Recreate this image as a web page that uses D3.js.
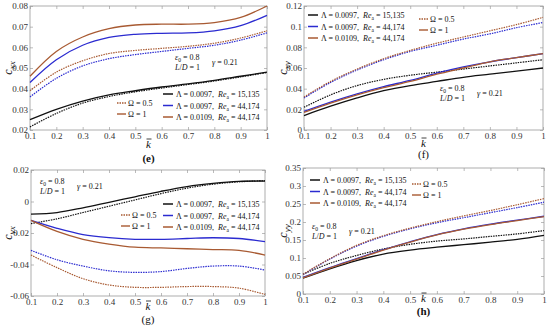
<!DOCTYPE html>
<html>
<head>
<meta charset="utf-8">
<script src="https://cdn.jsdelivr.net/npm/d3@7"></script>
<style>
  body { margin: 0; background: #fff; }
  svg { display: block; font-family: "Liberation Serif", "DejaVu Serif", serif; }
</style>
</head>
<body>
<svg width="550" height="328"></svg>
<script>
// k bar values (x axis, same for every panel)
var kBar = [0.1, 0.2, 0.3, 0.4, 0.5, 0.6, 0.7, 0.8, 0.9, 1.0];
var xTicks = [0.1, 0.2, 0.3, 0.4, 0.5, 0.6, 0.7, 0.8, 0.9, 1];
var xTickLabels = ["0.1", "0.2", "0.3", "0.4", "0.5", "0.6", "0.7", "0.8", "0.9", "1"];

// legend cases
var caseLambda = ["0.0097", "0.0097", "0.0109"];
var caseRe = ["15,135", "44,174", "44,174"];
var caseColors = ["#111111", "#2b2bd0", "#a85a32"];

// (e) c_xx
var cxxTicks = [0.02, 0.03, 0.04, 0.05, 0.06, 0.07, 0.08];
var cxxTickLabels = ["0.02", "0.03", "0.04", "0.05", "0.06", "0.07", "0.08"];
var cxx_black_om1 = [0.025, 0.0300, 0.0340, 0.0370, 0.0390, 0.0408, 0.0423, 0.0440, 0.0460, 0.0480];
var cxx_black_om05 = [0.0215, 0.0280, 0.0330, 0.0362, 0.0385, 0.0403, 0.0420, 0.0437, 0.0457, 0.0478];
var cxx_blue_om1 = [0.043, 0.0540, 0.0610, 0.0648, 0.0663, 0.0668, 0.0670, 0.0680, 0.0705, 0.0755];
var cxx_blue_om05 = [0.036, 0.0450, 0.0510, 0.0545, 0.0565, 0.0580, 0.0595, 0.0610, 0.0635, 0.0670];
var cxx_brown_om1 = [0.046, 0.0580, 0.0650, 0.0690, 0.0708, 0.0712, 0.0712, 0.0720, 0.0745, 0.0800];
var cxx_brown_om05 = [0.039, 0.0480, 0.0535, 0.0570, 0.0585, 0.0595, 0.0605, 0.0620, 0.0645, 0.0680];

// (f) c_xy
var cxyTicks = [0, 0.02, 0.04, 0.06, 0.08, 0.1, 0.12];
var cxyTickLabels = ["0", "0.02", "0.04", "0.06", "0.08", "0.1", "0.12"];
var cxy_black_om1 = [0.014, 0.023, 0.031, 0.038, 0.043, 0.047, 0.051, 0.054, 0.057, 0.060];
var cxy_black_om05 = [0.022, 0.034, 0.043, 0.049, 0.053, 0.056, 0.059, 0.062, 0.065, 0.068];
var cxy_blue_om1 = [0.018, 0.027, 0.035, 0.042, 0.048, 0.055, 0.061, 0.066, 0.070, 0.074];
var cxy_blue_om05 = [0.031, 0.046, 0.058, 0.068, 0.076, 0.082, 0.088, 0.093, 0.099, 0.104];
var cxy_brown_om1 = [0.017, 0.026, 0.034, 0.041, 0.047, 0.054, 0.060, 0.066, 0.070, 0.074];
var cxy_brown_om05 = [0.032, 0.047, 0.059, 0.069, 0.077, 0.084, 0.090, 0.096, 0.102, 0.109];

// (g) c_yx
var cyxTicks = [-0.06, -0.04, -0.02, 0, 0.02];
var cyxTickLabels = ["-0.06", "-0.04", "-0.02", "0", "0.02"];
var cyx_black_om1 = [-0.008, -0.007, -0.004, -0.0005, 0.003, 0.0065, 0.0095, 0.0115, 0.0128, 0.013];
var cyx_black_om05 = [-0.014, -0.011, -0.007, -0.003, 0.001, 0.005, 0.0085, 0.011, 0.0125, 0.0132];
var cyx_blue_om1 = [-0.012, -0.017, -0.021, -0.023, -0.024, -0.024, -0.0235, -0.023, -0.0235, -0.0255];
var cyx_blue_om05 = [-0.031, -0.037, -0.041, -0.044, -0.045, -0.0445, -0.0425, -0.041, -0.041, -0.0435];
var cyx_brown_om1 = [-0.012, -0.019, -0.024, -0.027, -0.029, -0.0295, -0.030, -0.0305, -0.031, -0.034];
var cyx_brown_om05 = [-0.034, -0.042, -0.049, -0.053, -0.0545, -0.0545, -0.054, -0.054, -0.055, -0.059];

// (h) c_yy
var cyyTicks = [0, 0.05, 0.1, 0.15, 0.2, 0.25, 0.3, 0.35];
var cyyTickLabels = ["0", "0.05", "0.1", "0.15", "0.2", "0.25", "0.3", "0.35"];
var cyy_black_om1 = [0.044, 0.070, 0.093, 0.111, 0.122, 0.130, 0.137, 0.144, 0.152, 0.163];
var cyy_black_om05 = [0.055, 0.085, 0.107, 0.125, 0.138, 0.147, 0.153, 0.160, 0.167, 0.176];
var cyy_blue_om1 = [0.046, 0.073, 0.098, 0.123, 0.145, 0.165, 0.181, 0.194, 0.205, 0.216];
var cyy_blue_om05 = [0.054, 0.097, 0.133, 0.160, 0.181, 0.198, 0.212, 0.226, 0.240, 0.255];
var cyy_brown_om1 = [0.045, 0.072, 0.097, 0.122, 0.144, 0.164, 0.180, 0.193, 0.204, 0.215];
var cyy_brown_om05 = [0.055, 0.098, 0.135, 0.162, 0.183, 0.201, 0.217, 0.232, 0.248, 0.265];

var svg = d3.select("svg");
var serif = "Liberation Serif";

// panel layouts (plot box + where legend/notes sit)
var panels = [
  { sub: "xx", tag: "(e)", bold: true, box: [30, 267, 6, 130], ticks: cxxTicks, labels: cxxTickLabels,
    series: [[cxx_black_om1, cxx_black_om05], [cxx_blue_om1, cxx_blue_om05], [cxx_brown_om1, cxx_brown_om05]],
    legend: [163, 94], omega: [117, 103], note: [175, 57], tagY: 162, kY: 148, ylabX: 12 },
  { sub: "xy", tag: "(f)", bold: false, box: [304, 543, 6, 130], ticks: cxyTicks, labels: cxyTickLabels,
    series: [[cxy_black_om1, cxy_black_om05], [cxy_blue_om1, cxy_blue_om05], [cxy_brown_om1, cxy_brown_om05]],
    legend: [308, 15], omega: [419, 19], note: [440, 88], tagY: 158, kY: 147, ylabX: 287 },
  { sub: "yx", tag: "(g)", bold: false, box: [31, 265, 170, 296], ticks: cyxTicks, labels: cyxTickLabels,
    series: [[cyx_black_om1, cyx_black_om05], [cyx_blue_om1, cyx_blue_om05], [cyx_brown_om1, cyx_brown_om05]],
    legend: [163, 204], omega: [121, 215], note: [40, 181], tagY: 323, kY: 310, ylabX: 12 },
  { sub: "yy", tag: "(h)", bold: true, box: [303, 544, 168, 294], ticks: cyyTicks, labels: cyyTickLabels,
    series: [[cyy_black_om1, cyy_black_om05], [cyy_blue_om1, cyy_blue_om05], [cyy_brown_om1, cyy_brown_om05]],
    legend: [310, 180], omega: [412, 184], note: [312, 226], tagY: 315, kY: 302, ylabX: 287 }
];

panels.forEach(function(p) {
  var x0 = p.box[0], x1 = p.box[1], y0 = p.box[2], y1 = p.box[3];
  var x = d3.scaleLinear().domain([0.1, 1]).range([x0, x1]);
  var y = d3.scaleLinear().domain([p.ticks[0], p.ticks[p.ticks.length - 1]]).range([y1, y0]);
  var g = svg.append("g").style("font-family", serif);

  // axes, MATLAB-ish box with inward ticks
  var fmtX = function(d, i) { return xTickLabels[i]; };
  var fmtY = function(d, i) { return p.labels[i]; };
  var bottom = g.append("g").attr("transform", "translate(0," + y1 + ")")
    .call(d3.axisBottom(x).tickValues(xTicks).tickFormat(fmtX).tickSizeInner(-3).tickSizeOuter(0).tickPadding(3));
  var top = g.append("g").attr("transform", "translate(0," + y0 + ")")
    .call(d3.axisTop(x).tickValues(xTicks).tickFormat("").tickSizeInner(-3).tickSizeOuter(0));
  var left = g.append("g").attr("transform", "translate(" + x0 + ",0)")
    .call(d3.axisLeft(y).tickValues(p.ticks).tickFormat(fmtY).tickSizeInner(-3).tickSizeOuter(0).tickPadding(2));
  var right = g.append("g").attr("transform", "translate(" + x1 + ",0)")
    .call(d3.axisRight(y).tickValues(p.ticks).tickFormat("").tickSizeInner(-3).tickSizeOuter(0));
  [bottom, top, left, right].forEach(function(a) {
    a.attr("font-family", serif);
    a.select(".domain").remove();
    a.selectAll(".tick line").attr("stroke", "#bbb");
    a.selectAll("text").attr("fill", "#333").style("font-family", serif).style("font-size", "9px");
  });
  g.append("rect").attr("x", x0).attr("y", y0).attr("width", x1 - x0).attr("height", y1 - y0)
    .attr("fill", "none").attr("stroke", "#999").attr("stroke-width", 0.8);

  // curves
  var line = d3.line().x(function(d, i) { return x(kBar[i]); }).y(function(d) { return y(d); })
    .curve(d3.curveCatmullRom.alpha(0.5));
  p.series.forEach(function(pair, ci) {
    g.append("path").datum(pair[1]).attr("fill", "none").attr("stroke", caseColors[ci])
      .attr("stroke-width", 1.2).attr("stroke-dasharray", "1.5,1").attr("d", line);
    g.append("path").datum(pair[0]).attr("fill", "none").attr("stroke", caseColors[ci])
      .attr("stroke-width", 1.3).attr("d", line);
  });

  // legend for the three cases
  caseLambda.forEach(function(lam, i) {
    var ly = p.legend[1] + i * 11.5;
    g.append("line").attr("x1", p.legend[0]).attr("x2", p.legend[0] + 10).attr("y1", ly).attr("y2", ly)
      .attr("stroke", caseColors[i]).attr("stroke-width", 1.5);
    var t = g.append("text").attr("x", p.legend[0] + 13).attr("y", ly + 3).style("font-size", "8px").attr("fill", "#111");
    t.append("tspan").text("\u039B = " + lam + ",\u00A0\u00A0");
    t.append("tspan").style("font-style", "italic").text("Re");
    t.append("tspan").attr("dy", 2).style("font-size", "5.5px").text("a");
    t.append("tspan").attr("dy", -2).text(" = " + caseRe[i]);
  });

  // legend for Omega
  var omegaText = ["\u03A9 = 0.5", "\u03A9 = 1"];
  omegaText.forEach(function(s, i) {
    var oy = p.omega[1] + i * 11;
    g.append("line").attr("x1", p.omega[0]).attr("x2", p.omega[0] + 9).attr("y1", oy).attr("y2", oy)
      .attr("stroke", "#a85a32").attr("stroke-width", 1.4).attr("stroke-dasharray", i === 0 ? "1.5,1" : null);
    g.append("text").attr("x", p.omega[0] + 11).attr("y", oy + 3).style("font-size", "8px").attr("fill", "#111").text(s);
  });

  // parameters note
  var n1 = g.append("text").attr("x", p.note[0]).attr("y", p.note[1] + 3).style("font-size", "8px").attr("fill", "#111");
  n1.append("tspan").style("font-style", "italic").text("\u03B5");
  n1.append("tspan").attr("dy", 2).style("font-size", "5.5px").text("0");
  n1.append("tspan").attr("dy", -2).text(" = 0.8");
  var n2 = g.append("text").attr("x", p.note[0]).attr("y", p.note[1] + 13).style("font-size", "8px").attr("fill", "#111");
  n2.append("tspan").style("font-style", "italic").text("L");
  n2.append("tspan").text("/");
  n2.append("tspan").style("font-style", "italic").text("D");
  n2.append("tspan").text(" = 1");
  var n3 = g.append("text").attr("x", p.note[0] + 37).attr("y", p.note[1] + 8).style("font-size", "8px").attr("fill", "#111");
  n3.append("tspan").style("font-style", "italic").text("\u03B3");
  n3.append("tspan").text(" = 0.21");

  // y label c_xx etc
  var yl = g.append("text").attr("transform", "translate(" + p.ylabX + "," + ((y0 + y1) / 2) + ")rotate(-90)")
    .attr("text-anchor", "middle").style("font-size", "12px").attr("fill", "#111");
  yl.append("tspan").style("font-style", "italic").text("c");
  yl.append("tspan").attr("dy", 3).style("font-style", "italic").style("font-size", "9px").text(p.sub);

  // x label k bar
  var kx = (x0 + x1) / 2;
  g.append("text").attr("x", kx).attr("y", p.kY).attr("text-anchor", "middle")
    .style("font-style", "italic").style("font-size", "11px").attr("fill", "#111").text("k");
  g.append("line").attr("x1", kx - 2).attr("x2", kx + 3).attr("y1", p.kY - 9).attr("y2", p.kY - 9)
    .attr("stroke", "#111").attr("stroke-width", 0.8);

  // panel tag
  g.append("text").attr("x", kx).attr("y", p.tagY).attr("text-anchor", "middle")
    .style("font-weight", p.bold ? "bold" : "normal").style("font-size", "11px").attr("fill", "#111").text(p.tag);
});
</script>
</body>
</html>
